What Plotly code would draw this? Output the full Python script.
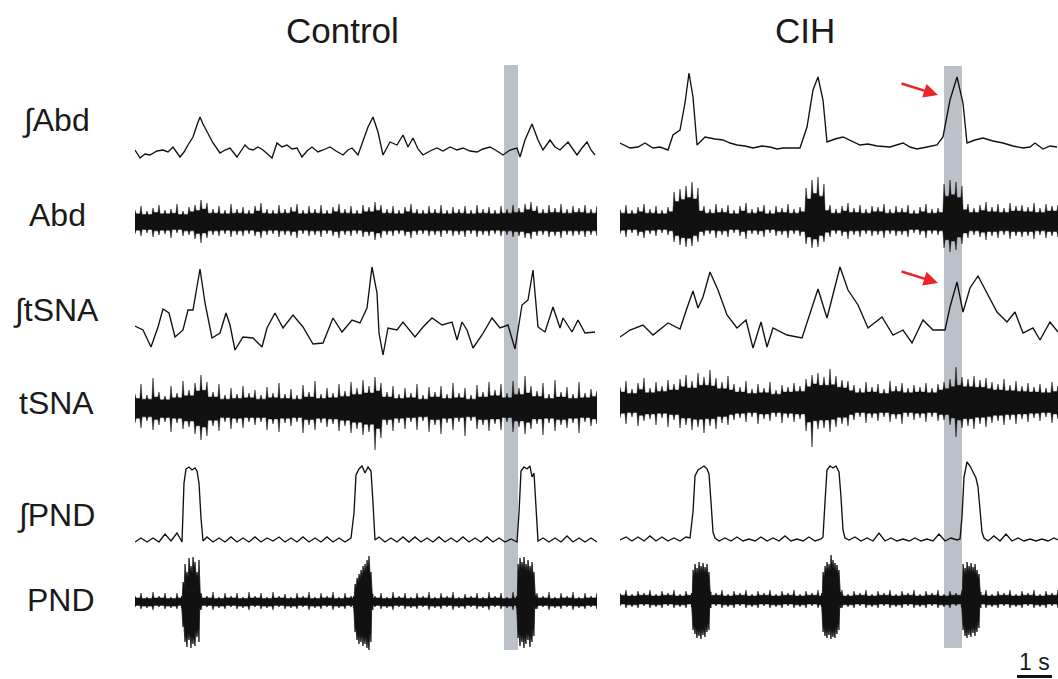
import plotly.graph_objects as go

W, H = 1058, 679

# ---------------- DATA (time in frames of 1/35 s, amplitudes in a.u.) ----------------
panel_titles = ["Control", "CIH"]
row_labels = ["∫Abd", "Abd", "∫tSNA", "tSNA", "∫PND", "PND"]
scale_bar_label = "1 s"
frames_per_second = 35

# ∫Abd
ctrl_iabd_t = [0, 5, 10, 15, 22, 28, 33, 38, 45, 49, 53, 58, 62, 65, 68, 72, 78, 85, 90, 95, 102, 106, 110,
               114, 118, 123, 128, 137, 142, 147, 152, 157, 162, 167, 172, 177, 183, 188, 195, 201, 208,
               213, 217, 223, 228, 233, 238, 243, 248, 255, 262, 268, 273, 278, 283, 288, 295, 302, 308,
               315, 322, 328, 335, 342, 348, 355, 362, 368, 375, 382, 385, 390, 397, 403, 408, 415, 420,
               425, 433, 438, 442, 447, 452, 456, 460]
ctrl_iabd_v = [10, 2, 6, 5, 9, 10, 8, 13, 3, 8, 15, 23, 35, 43, 36, 28, 17, 7, 10, 12, 3, 9, 15,
               11, 10, 13, 10, 2, 17, 13, 15, 11, 12, 3, 9, 13, 8, 10, 13, 9, 5,
               10, 12, 5, 20, 33, 43, 28, 5, 18, 15, 25, 13, 22, 11, 5, 9, 12, 9,
               13, 10, 12, 9, 8, 11, 13, 9, 5, 10, 12, 3, 20, 36, 20, 10, 20, 13,
               10, 18, 11, 5, 12, 18, 10, 5]
cih_iabd_t = [0, 10, 18, 25, 33, 40, 48, 53, 60, 65, 69, 73, 77, 85, 95, 103, 110, 117, 125, 133, 142, 150,
              157, 163, 172, 180, 187, 193, 198, 203, 207, 215, 223, 232, 240, 248, 257, 270, 283, 290, 297,
              307, 317, 323, 330, 337, 343, 347, 355, 363, 373, 383, 393, 403, 410, 415, 423, 430, 437]
cih_iabd_v = [17, 12, 13, 17, 12, 13, 10, 25, 30, 57, 87, 63, 15, 23, 21, 20, 17, 15, 14, 12, 14, 13,
              11, 12, 12, 12, 33, 70, 83, 60, 18, 21, 23, 19, 15, 16, 14, 13, 17, 13, 11,
              13, 15, 23, 60, 83, 57, 17, 20, 22, 19, 17, 14, 12, 13, 17, 11, 14, 13]

# ∫tSNA
ctrl_itsna_t = [0, 8, 16, 23, 28, 34, 40, 48, 53, 58, 65, 70, 77, 85, 91, 95, 100, 108, 118, 127, 132, 140,
                148, 158, 168, 178, 188, 198, 207, 217, 225, 232, 237, 242, 244, 248, 253, 262, 268, 280,
                288, 297, 307, 317, 322, 327, 332, 338, 347, 357, 365, 373, 380, 387, 393, 398, 403, 410,
                418, 425, 428, 437, 443, 450, 460]
ctrl_itsna_v = [34, 30, 13, 33, 51, 47, 23, 30, 50, 50, 91, 57, 22, 27, 47, 35, 10, 23, 22, 13, 32, 47,
                32, 45, 33, 16, 17, 42, 28, 40, 37, 52, 93, 67, 27, 5, 32, 30, 38, 23,
                33, 42, 35, 38, 20, 38, 30, 12, 25, 42, 32, 35, 11, 55, 60, 90, 33, 28,
                53, 32, 42, 28, 40, 27, 28]
cih_itsna_t = [0, 10, 23, 33, 48, 60, 67, 73, 78, 83, 90, 98, 107, 117, 126, 133, 141, 147, 153, 167, 182,
               190, 198, 207, 213, 220, 228, 238, 248, 262, 273, 283, 292, 303, 313, 325, 330, 337, 343,
               350, 358, 367, 377, 387, 395, 403, 413, 420, 430, 438]
cih_itsna_v = [23, 30, 35, 25, 37, 31, 52, 69, 52, 63, 88, 70, 45, 32, 40, 12, 38, 13, 32, 25, 22,
               47, 71, 42, 67, 93, 70, 55, 32, 43, 25, 30, 17, 40, 30, 30, 53, 78, 48,
               72, 84, 67, 48, 38, 48, 27, 32, 20, 38, 28]

# ∫PND
ctrl_ipnd_t = [0, 6, 12, 18, 24, 30, 36, 42, 47,
               49, 51, 54, 57, 60, 62, 64, 66, 68,
               72, 78, 84, 90, 96, 102, 108, 114, 120, 126, 132, 138, 144, 150, 156, 162, 168, 174, 180,
               186, 192, 198, 204, 210, 216,
               219, 221, 224, 227, 230, 233, 236, 238, 240,
               244, 250, 256, 262, 268, 274, 280, 286, 292, 298, 304, 310, 316, 322, 328, 334, 340, 346,
               352, 358, 364, 370, 376, 382,
               384, 386, 389, 392, 395, 397, 399, 401, 403,
               408, 414, 420, 426, 432, 438, 444, 450, 456, 462]
ctrl_ipnd_v = [1, 5, 1, 5, 1, 9, 2, 10, 1,
               60, 74, 76, 73, 75, 72, 60, 25, 2,
               6, 1, 5, 1, 6, 1, 5, 1, 6, 1, 5, 2, 6, 1, 5, 1, 6, 1, 5,
               1, 6, 1, 5, 1, 5,
               30, 68, 74, 77, 70, 76, 72, 40, 3,
               6, 1, 5, 1, 6, 1, 6, 1, 5, 1, 6, 1, 5, 1, 6, 1, 5, 1,
               6, 1, 5, 1, 4, 1,
               30, 72, 76, 74, 77, 66, 70, 35, 2,
               5, 1, 5, 1, 7, 1, 5, 1, 5, 1]
cih_ipnd_t = [0, 6, 12, 18, 24, 30, 36, 42, 48, 54, 60, 66,
              70, 73, 75, 78, 81, 84, 87, 89, 91, 93, 95,
              99, 105, 111, 117, 123, 129, 135, 141, 147, 153, 159, 165, 171, 177, 183, 189, 195, 201,
              203, 205, 207, 210, 213, 216, 219, 221, 223, 225,
              229, 235, 241, 247, 253, 259, 265, 271, 277, 283, 289, 295, 301, 307, 313, 319, 325, 331, 337,
              340, 342, 344, 347, 350, 353, 356, 358, 360, 362, 364,
              368, 374, 380, 386, 392, 398, 404, 410, 416, 422, 428, 434, 438]
cih_ipnd_v = [2, 5, 1, 5, 1, 6, 1, 5, 1, 4, 1, 5,
              4, 30, 66, 72, 74, 76, 73, 68, 40, 10, 4,
              1, 4, 1, 5, 1, 3, 1, 5, 1, 4, 1, 6, 1, 3, 1, 5, 1, 3,
              5, 40, 72, 76, 74, 76, 70, 45, 12, 4,
              2, 5, 1, 4, 1, 9, 1, 4, 1, 3, 1, 4, 1, 3, 1, 8, 1, 4, 2,
              3, 25, 65, 80, 76, 70, 64, 55, 30, 10, 4,
              1, 6, 1, 8, 1, 4, 1, 3, 1, 3, 1, 4, 2]

# Raw traces: upper / lower envelope peaks, sampled every 6 frames
raw_step = 6
ctrl_abd_up = [12, 16, 11, 14, 17, 12, 13, 18, 11, 15,
               17, 22, 19, 13, 16, 12, 18, 13, 15, 12,
               16, 19, 13, 12, 17, 13, 15, 18, 12, 16,
               13, 17, 12, 15, 18, 13, 16, 12, 17, 15,
               20, 17, 13, 16, 12, 15, 18, 13, 12, 16,
               13, 17, 12, 15, 13, 16, 12, 17, 13, 15,
               12, 16, 13, 17, 14, 18, 20, 16, 13, 17,
               14, 18, 13, 16, 14, 17, 13, 16]
ctrl_abd_lo = [12, 14, 11, 15, 13, 12, 16, 11, 14, 13,
               17, 21, 16, 13, 14, 12, 15, 13, 14, 12,
               14, 16, 13, 12, 15, 13, 14, 16, 12, 14,
               13, 15, 12, 14, 16, 13, 14, 12, 15, 14,
               18, 16, 13, 14, 12, 14, 16, 13, 12, 14,
               13, 15, 12, 14, 13, 15, 12, 15, 13, 14,
               12, 14, 13, 15, 14, 16, 17, 14, 13, 15,
               14, 16, 13, 14, 13, 15, 13, 14]
cih_abd_up = [13, 17, 12, 15, 18, 13, 16, 12, 15,
              30, 33, 36, 40, 34,
              16, 13, 18, 14, 17, 12, 16, 19, 13, 15,
              17, 12, 16, 14, 18, 13, 15,
              34, 42, 45, 38,
              17, 13, 16, 19, 14, 17, 13, 16, 15, 18,
              13, 16, 14, 17, 12, 15, 18, 13, 14,
              38, 42, 40, 36,
              18, 14, 17, 20, 15, 18, 14, 19, 16, 17,
              15, 19, 14, 18, 16, 17]
cih_abd_lo = [12, 15, 11, 14, 16, 12, 14, 11, 13,
              20, 23, 25, 24, 20,
              14, 12, 16, 13, 15, 11, 14, 17, 12, 13,
              15, 11, 14, 13, 16, 12, 14,
              22, 26, 25, 20,
              15, 12, 14, 17, 13, 15, 12, 14, 13, 16,
              12, 14, 13, 15, 11, 13, 16, 12, 13,
              26, 30, 28, 22,
              16, 13, 15, 18, 14, 16, 13, 17, 14, 15,
              14, 17, 13, 16, 14, 15]
ctrl_tsna_up = [14, 24, 13, 30, 16, 12, 22, 15, 27, 18,
                25, 33, 26, 16, 24, 13, 20, 14, 22, 15,
                18, 13, 21, 15, 25, 14, 19, 13, 23, 16,
                27, 14, 20, 15, 24, 17, 26, 20, 28, 22,
                31, 25, 16, 22, 14, 20, 15, 24, 13, 21,
                16, 22, 14, 25, 15, 20, 13, 23, 16, 26,
                18, 24, 15, 27, 20, 32, 22, 17, 25, 14,
                28, 16, 21, 14, 26, 15, 19, 17]
ctrl_tsna_lo = [15, 20, 13, 22, 17, 14, 24, 15, 21, 19,
                26, 32, 28, 18, 23, 14, 21, 15, 20, 14,
                17, 14, 22, 16, 24, 15, 18, 14, 25, 17,
                22, 15, 19, 16, 23, 18, 25, 21, 27, 24,
                42, 30, 17, 23, 15, 21, 14, 22, 13, 24,
                17, 26, 15, 22, 14, 28, 13, 21, 17, 23,
                16, 22, 14, 24, 19, 26, 21, 16, 27, 15,
                23, 17, 20, 15, 25, 14, 18, 16]
cih_tsna_up = [16, 22, 14, 20, 25, 15, 21, 17, 23, 19,
               24, 28, 22, 30, 26, 33, 25, 21, 27, 19,
               16, 22, 14, 19, 15, 21, 13, 18, 16, 20,
               17, 24, 28, 30, 26, 34, 27, 23, 22, 18,
               15, 21, 16, 19, 14, 22, 17, 20, 15, 18,
               16, 20, 15, 19, 21, 24, 36, 26, 24, 27,
               23, 25, 21, 19, 24, 18, 22, 17, 20, 16,
               19, 15, 21, 17]
cih_tsna_lo = [15, 21, 14, 23, 18, 16, 22, 15, 24, 17,
               25, 22, 27, 24, 30, 23, 26, 20, 22, 17,
               15, 19, 14, 21, 16, 18, 14, 20, 15, 19,
               16, 28, 44, 26, 25, 29, 24, 21, 23, 17,
               14, 20, 15, 18, 14, 19, 16, 21, 14, 17,
               15, 19, 14, 18, 17, 22, 34, 25, 23, 26,
               21, 24, 20, 18, 22, 17, 21, 16, 19, 15,
               18, 14, 20, 16]
ctrl_pnd_up = [6, 9, 5, 10, 6, 9, 5, 9, 6, 10,
               5, 9, 6, 10, 5, 9, 6, 9, 5, 10,
               6, 9, 5, 10, 6, 8, 5, 9, 6, 10,
               5, 9, 6, 10, 5, 9, 6, 9, 5, 10,
               6, 9, 5, 10, 6, 9, 5, 9, 6, 10,
               5, 9, 6, 10, 5, 8, 6, 9, 5, 10,
               6, 9, 5, 10, 6, 9, 5, 9, 6, 10,
               5, 9, 6, 10, 5, 9, 6, 9]
ctrl_pnd_lo = [5, 7, 6, 8, 5, 7, 6, 7, 5, 8,
               6, 7, 5, 8, 6, 7, 5, 7, 6, 8,
               5, 7, 6, 8, 5, 7, 6, 7, 5, 8,
               6, 7, 5, 8, 6, 7, 5, 7, 6, 8,
               5, 7, 6, 8, 5, 7, 6, 7, 5, 8,
               6, 7, 5, 8, 6, 7, 5, 7, 6, 8,
               5, 7, 6, 8, 5, 7, 6, 7, 5, 8,
               6, 7, 5, 8, 6, 7, 5, 7]
cih_pnd_up = [7, 10, 6, 9, 7, 10, 6, 9, 7, 10,
              6, 9, 7, 10, 6, 9, 7, 10, 6, 9,
              7, 10, 6, 9, 7, 10, 6, 9, 7, 10,
              6, 9, 7, 10, 6, 9, 7, 10, 6, 9,
              7, 10, 6, 9, 7, 10, 6, 9, 7, 10,
              6, 9, 7, 10, 6, 9, 7, 10, 6, 9,
              7, 10, 6, 9, 7, 10, 6, 9, 7, 10,
              6, 9, 7, 10]
cih_pnd_lo = [6, 8, 7, 8, 6, 8, 7, 8, 6, 8,
              7, 8, 6, 8, 7, 8, 6, 8, 7, 8,
              6, 8, 7, 8, 6, 8, 7, 8, 6, 8,
              7, 8, 6, 8, 7, 8, 6, 8, 7, 8,
              6, 8, 7, 8, 6, 8, 7, 8, 6, 8,
              7, 8, 6, 8, 7, 8, 6, 8, 7, 8,
              6, 8, 7, 8, 6, 8, 7, 8, 6, 8,
              7, 8, 6, 8]

# PND bursts (t, upper, lower)
ctrl_pnd_bursts = [
    ([46, 48, 50, 52, 54, 56, 58, 60, 62, 64, 66],
     [6, 20, 38, 30, 44, 36, 45, 40, 30, 42, 8],
     [6, 25, 40, 45, 38, 46, 42, 44, 35, 40, 8]),
    ([218, 220, 222, 224, 226, 228, 230, 232, 234, 236, 238],
     [6, 18, 24, 28, 32, 36, 38, 42, 46, 30, 8],
     [6, 30, 38, 42, 40, 44, 42, 46, 48, 40, 8]),
    ([381, 383, 385, 387, 389, 391, 393, 395, 397, 399, 401],
     [6, 38, 44, 40, 45, 38, 42, 36, 40, 30, 7],
     [6, 36, 44, 40, 46, 42, 38, 45, 40, 34, 7]),
]
cih_pnd_bursts = [
    ([71, 73, 75, 77, 79, 81, 83, 85, 87, 89, 91],
     [7, 30, 36, 32, 38, 34, 37, 33, 36, 28, 8],
     [7, 30, 34, 38, 36, 39, 35, 37, 32, 30, 8]),
    ([201, 203, 205, 207, 209, 211, 213, 215, 217, 219, 221],
     [7, 28, 34, 38, 36, 45, 40, 37, 35, 30, 8],
     [7, 32, 36, 38, 35, 39, 37, 38, 34, 30, 8]),
    ([341, 343, 345, 347, 349, 351, 353, 355, 357, 359, 361],
     [7, 36, 32, 38, 34, 37, 33, 36, 30, 26, 8],
     [7, 30, 36, 38, 35, 37, 33, 36, 32, 28, 8]),
]

# highlighted windows (frames) and arrow targets
ctrl_highlight = [369, 383]
cih_highlight = [324, 342]
arrow_targets = [(318, 65), (318, 77)]  # (frame, amplitude) on CIH ∫Abd and ∫tSNA

# ---------------- LAYOUT / STYLE ----------------
PANEL_X = [(135, 597, 462), (620, 1058, 438)]  # px left, px right, frame span
# (top px, bottom px, ref px control, ref px CIH)
ROWS = [
    (55, 170, 160, 160),
    (170, 265, 222, 222),
    (255, 370, 360, 360),
    (360, 460, 408, 403),
    (450, 555, 543, 542),
    (545, 660, 602, 600),
]
FONT = "Liberation Sans, Arial, Helvetica, sans-serif"
INK = "#111111"

fig = go.Figure()
layout = dict(width=W, height=H, margin=dict(l=0, r=0, t=0, b=0, pad=0),
              paper_bgcolor="white", plot_bgcolor="rgba(0,0,0,0)", showlegend=False)

for p, (xl, xr, span) in enumerate(PANEL_X):
    key = "xaxis" if p == 0 else "xaxis2"
    layout[key] = dict(domain=[xl / W, xr / W], range=[0, span], visible=False,
                       fixedrange=True, anchor="y" if p == 0 else "y2")


def yname(r, p):
    i = r * 2 + p + 1
    return ("y" if i == 1 else f"y{i}")


for r, (ytop, ybot, rc, rh) in enumerate(ROWS):
    for p, ref in enumerate([rc, rh]):
        i = r * 2 + p + 1
        key = "yaxis" if i == 1 else f"yaxis{i}"
        layout[key] = dict(domain=[(H - ybot) / H, (H - ytop) / H], range=[ref - ybot, ref - ytop],
                           visible=False, fixedrange=True, anchor="x" if p == 0 else "x2")

fig.update_layout(**layout)


def xname(p):
    return "x" if p == 0 else "x2"


def add_line(t, v, r, p):
    fig.add_trace(go.Scatter(x=t, y=v, mode="lines", xaxis=xname(p), yaxis=yname(r, p),
                             line=dict(color=INK, width=1.35), hoverinfo="skip"))


def spiky_side(t, amp, sign, half, dip):
    """Outline of one side: sharp peaks at each sample, shallow valleys between them."""
    xs, ys = [], []
    n = len(t)
    for k in range(n):
        if k > 0 and t[k] - t[k - 1] > 2 * half + 0.2:
            xs.append(t[k] - half)
            ys.append(sign * dip * min(amp[k], amp[k - 1]))
        xs.append(t[k])
        ys.append(sign * amp[k])
        if k < n - 1 and t[k + 1] - t[k] > 2 * half + 0.2:
            xs.append(t[k] + half)
            ys.append(sign * dip * min(amp[k], amp[k + 1]))
    return xs, ys


def add_band(t, up, lo, r, p, width=0.5, half=1.1, dip=0.68):
    ux, uy = spiky_side(t, up, 1, half, dip)
    lx, ly = spiky_side(t, lo, -1, half, dip)
    xs = ux + lx[::-1]
    ys = uy + ly[::-1]
    fig.add_trace(go.Scatter(x=xs, y=ys, mode="lines", fill="toself", fillcolor=INK,
                             xaxis=xname(p), yaxis=yname(r, p),
                             line=dict(color=INK, width=width), hoverinfo="skip"))


def grid(n):
    return [k * raw_step for k in range(n)]


# Row 0: ∫Abd
add_line(ctrl_iabd_t, ctrl_iabd_v, 0, 0)
add_line(cih_iabd_t, cih_iabd_v, 0, 1)
# Row 1: Abd
add_band(grid(len(ctrl_abd_up)), ctrl_abd_up, ctrl_abd_lo, 1, 0)
add_band(grid(len(cih_abd_up)), cih_abd_up, cih_abd_lo, 1, 1)
# Row 2: ∫tSNA
add_line(ctrl_itsna_t, ctrl_itsna_v, 2, 0)
add_line(cih_itsna_t, cih_itsna_v, 2, 1)
# Row 3: tSNA
add_band(grid(len(ctrl_tsna_up)), ctrl_tsna_up, ctrl_tsna_lo, 3, 0)
add_band(grid(len(cih_tsna_up)), cih_tsna_up, cih_tsna_lo, 3, 1)
# Row 4: ∫PND
add_line(ctrl_ipnd_t, ctrl_ipnd_v, 4, 0)
add_line(cih_ipnd_t, cih_ipnd_v, 4, 1)
# Row 5: PND
add_band(grid(len(ctrl_pnd_up)), ctrl_pnd_up, ctrl_pnd_lo, 5, 0)
add_band(grid(len(cih_pnd_up)), cih_pnd_up, cih_pnd_lo, 5, 1)
for bt, bu, bl in ctrl_pnd_bursts:
    add_band(bt, bu, bl, 5, 0, width=0.8, half=0.7, dip=0.8)
for bt, bu, bl in cih_pnd_bursts:
    add_band(bt, bu, bl, 5, 1, width=0.8, half=0.7, dip=0.8)

# highlight bars
shapes = []
for xr_, hl, ytop, ybot in [("x", ctrl_highlight, 65, 650), ("x2", cih_highlight, 66, 648)]:
    shapes.append(dict(type="rect", xref=xr_, yref="paper", x0=hl[0], x1=hl[1],
                       y0=(H - ybot) / H, y1=(H - ytop) / H, fillcolor="#bcc0c9",
                       line=dict(width=0), layer="below"))
# scale bar (1 s)
sb_start = 397
shapes.append(dict(type="line", xref="x2", yref="paper", x0=sb_start, x1=sb_start + frames_per_second,
                   y0=(H - 676.5) / H, y1=(H - 676.5) / H, line=dict(color=INK, width=3)))
fig.update_layout(shapes=shapes)

ann = []
for p, title in enumerate(panel_titles):
    cx = [342, 805][p]
    ann.append(dict(text=title, x=cx / W, y=(H - 31) / H, xref="paper", yref="paper",
                    showarrow=False, xanchor="center", yanchor="middle",
                    font=dict(family=FONT, size=35, color="#1a1a1a")))
label_y = [120, 215, 310, 403, 515, 600]
label_x = [56, 57, 56, 56, 56, 61]
for lab, ly, lx in zip(row_labels, label_y, label_x):
    ann.append(dict(text=lab, x=lx / W, y=(H - ly) / H, xref="paper", yref="paper",
                    showarrow=False, xanchor="center", yanchor="middle",
                    font=dict(family=FONT, size=32, color="#1a1a1a")))
ann.append(dict(text=scale_bar_label, x=(sb_start + frames_per_second / 2), y=(H - 662) / H,
                xref="x2", yref="paper", showarrow=False, xanchor="center", yanchor="middle",
                font=dict(family=FONT, size=23, color="#1a1a1a")))
for (at, aa), yr in zip(arrow_targets, [yname(0, 1), yname(2, 1)]):
    ann.append(dict(text="", x=at, y=aa, xref="x2", yref=yr, showarrow=True,
                    ax=-38, ay=-12, axref="pixel", ayref="pixel",
                    arrowhead=2, arrowsize=1.1, arrowwidth=2.6, arrowcolor="#e8262a", standoff=0))
fig.update_layout(annotations=ann)

fig.write_html("out.html", config={"displayModeBar": False},
               post_script="document.body.style.margin='0px';document.body.style.overflow='hidden';")
